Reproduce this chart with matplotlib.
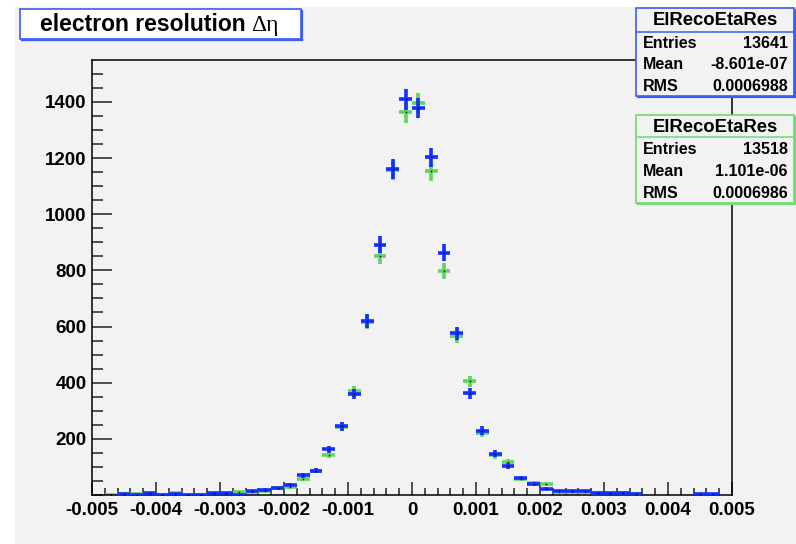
import numpy as np
import matplotlib
matplotlib.use('Agg')
import matplotlib.pyplot as plt
from matplotlib.patches import Rectangle
from matplotlib.lines import Line2D
from matplotlib.ticker import MultipleLocator, FixedLocator, FixedFormatter

# ---------------- data ----------------
x_min, x_max, n_bins = -0.005, 0.005, 50

blue_counts = [0, 0, 5, 1, 6, 1, 3, 1, 1, 7,
               7, 1, 15, 19, 25, 37, 70, 87, 163, 244,
               360, 618, 892, 1161, 1409, 1378, 1202, 863, 576, 362,
               229, 147, 104, 60, 40, 23, 14, 14, 14, 8,
               8, 8, 2, 0, 0, 0, 0, 2, 5, 0]

green_counts = [0, 1, 5, 2, 4, 1, 8, 1, 1, 5,
                2, 9, 12, 14, 24, 27, 58, 86, 144, 243,
                369, 616, 852, 1156, 1363, 1395, 1152, 797, 566, 405,
                221, 141, 119, 58, 42, 40, 12, 10, 10, 6,
                2, 7, 2, 0, 0, 0, 0, 0, 0, 0]

x_tick_values = [-0.005, -0.004, -0.003, -0.002, -0.001, 0, 0.001, 0.002, 0.003, 0.004, 0.005]
x_tick_labels = ['-0.005', '-0.004', '-0.003', '-0.002', '-0.001', '0',
                 '0.001', '0.002', '0.003', '0.004', '0.005']
y_tick_values = [200, 400, 600, 800, 1000, 1200, 1400]
y_max = 1549

title_main = 'electron resolution'
title_sym = 'Δη'
hist_name = 'ElRecoEtaRes'
stats_blue = [('Entries', '13641'), ('Mean', '-8.601e-07'), ('RMS', '0.0006988')]
stats_green = [('Entries', '13518'), ('Mean', '1.101e-06'), ('RMS', '0.0006986')]

# ---------------- style ----------------
W, H = 796, 544
BG = '#f2f2f2'
BLUE = '#1230ff'
GREEN = '#5fd45f'
BOX_BLUE = '#3a5cf0'
BOX_GREEN = '#6fdc6f'
FONT = 'Liberation Sans'

plt.rcParams['font.family'] = [FONT, 'DejaVu Sans']

fig = plt.figure(figsize=(W / 100, H / 100), dpi=100, facecolor='white')

def fx(x):
    return x / W

def fy(y):
    return 1 - y / H

# gray canvas
fig.patches.append(Rectangle((fx(15), 0), 1, fy(7), transform=fig.transFigure,
                             facecolor=BG, edgecolor='none', zorder=-5))

ax = fig.add_axes([fx(92), fy(495), 640 / W, 435 / H])
ax.set_facecolor(BG)

edges = np.linspace(x_min, x_max, n_bins + 1)
centers = 0.5 * (edges[:-1] + edges[1:])
half = 0.5 * (edges[1] - edges[0])

for counts, color, z in [(green_counts, GREEN, 2), (blue_counts, BLUE, 3)]:
    c = np.asarray(counts, dtype=float)
    m = c > 0
    ax.errorbar(centers[m], c[m], xerr=half, yerr=np.sqrt(c[m]), fmt='none',
                ecolor=color, elinewidth=2.6, capsize=0, zorder=z)
    ax.plot(centers[m], c[m], ls='none', marker='s', ms=1.0, color='black',
            mew=0, zorder=z + 0.5)

ax.set_xlim(x_min, x_max)
ax.set_ylim(0, y_max)

ax.xaxis.set_major_locator(FixedLocator(x_tick_values))
ax.xaxis.set_major_formatter(FixedFormatter(x_tick_labels))
ax.xaxis.set_minor_locator(MultipleLocator(0.0002))
ax.yaxis.set_major_locator(FixedLocator(y_tick_values))
ax.yaxis.set_minor_locator(MultipleLocator(50))

ax.tick_params(axis='both', which='both', direction='in', top=False, right=False,
               color='#222222', width=1.1)
ax.tick_params(axis='x', which='major', length=9.5, pad=5)
ax.tick_params(axis='x', which='minor', length=5)
ax.tick_params(axis='y', which='major', length=14.5, pad=4)
ax.tick_params(axis='y', which='minor', length=8)

for lab in ax.get_xticklabels() + ax.get_yticklabels():
    lab.set_fontfamily(FONT)
    lab.set_fontweight('bold')
    lab.set_fontsize(13.5)

for s in ax.spines.values():
    s.set_color('black')
    s.set_linewidth(1.1)

# ---------------- boxes ----------------
def add_box(x0, y0, x1, y1, face, edge, lw=1.2, shadow=True, z=5):
    fig.patches.append(Rectangle((fx(x0), fy(y1)), (x1 - x0) / W, (y1 - y0) / H,
                                 transform=fig.transFigure, facecolor=face,
                                 edgecolor=edge, linewidth=lw, zorder=z))
    if shadow:
        fig.lines.append(Line2D([fx(x0 + 2), fx(x1 + 1)], [fy(y1 + 1), fy(y1 + 1)],
                                transform=fig.transFigure, color=edge, lw=1.6, zorder=z))
        fig.lines.append(Line2D([fx(x1 + 1), fx(x1 + 1)], [fy(y0 + 2), fy(y1 + 1)],
                                transform=fig.transFigure, color=edge, lw=1.6, zorder=z))

# title box
add_box(20, 9, 301, 39, 'white', BOX_BLUE)
t1 = fig.text(fx(40), fy(31), title_main, ha='left', va='baseline',
              fontsize=16.5, fontweight='bold', family=FONT, zorder=7)
fig.canvas.draw()
bb = t1.get_window_extent(renderer=fig.canvas.get_renderer())
fig.text(bb.x1 / W + fx(6), fy(31), title_sym, ha='left', va='baseline',
         fontsize=17, family=['Liberation Serif', 'DejaVu Serif'], zorder=7)

# stats boxes
def stats_box(y0, y1, yline, edge, rows):
    add_box(636, y0, 794, y1, BG, edge)
    fig.lines.append(Line2D([fx(636), fx(794)], [fy(yline), fy(yline)],
                            transform=fig.transFigure, color=edge, lw=1.1, zorder=6))
    fig.text(fx(715), fy((y0 + yline) / 2 + 1), hist_name, ha='center', va='center',
             fontsize=13.3, fontweight='bold', family=FONT, zorder=7)
    step = (y1 - yline) / len(rows)
    for i, (k, v) in enumerate(rows):
        yc = yline + step * (i + 0.5) + 1
        fig.text(fx(643), fy(yc), k, ha='left', va='center', fontsize=11.5,
                 fontweight='bold', family=FONT, zorder=7)
        fig.text(fx(788), fy(yc), v, ha='right', va='center', fontsize=11.5,
                 fontweight='bold', family=FONT, zorder=7)

stats_box(8, 96, 31.5, BOX_BLUE, stats_blue)
stats_box(115, 203, 137, BOX_GREEN, stats_green)

fig.savefig('out.png', dpi=100, facecolor='white')
